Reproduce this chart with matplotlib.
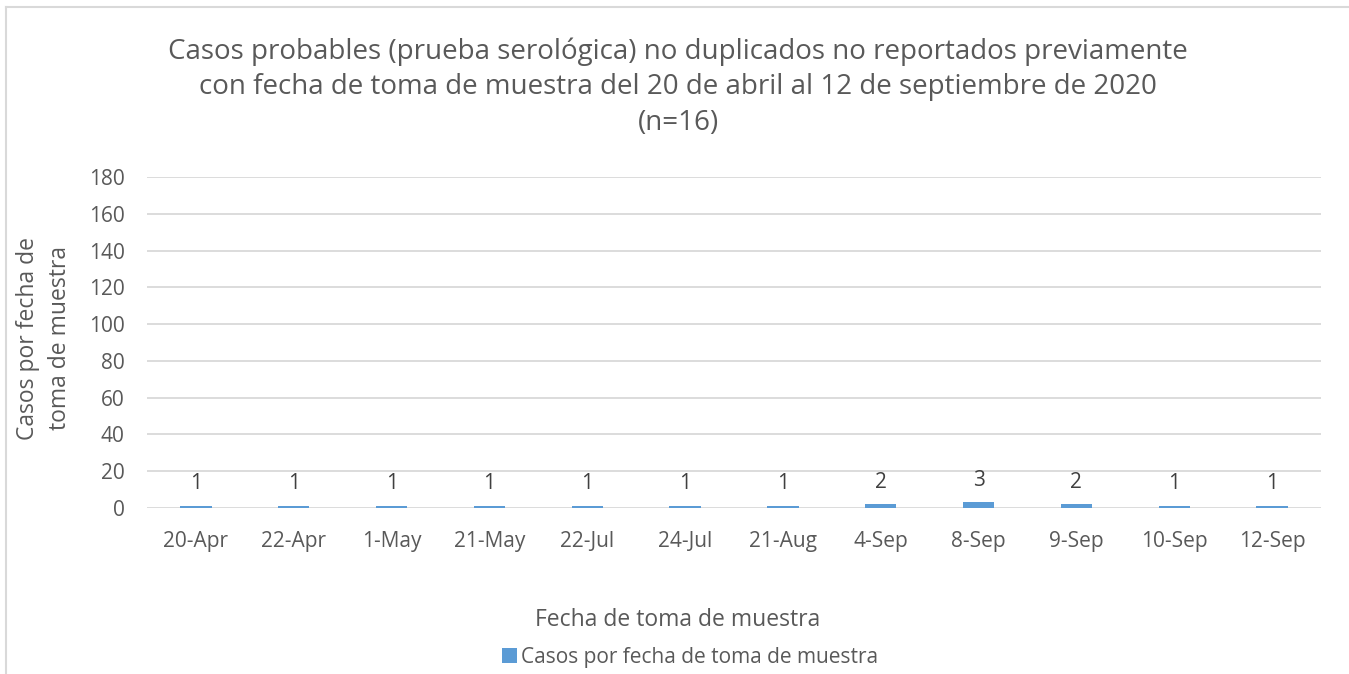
import matplotlib.pyplot as plt
import numpy as np

plt.rcParams['font.family'] = ['Open Sans', 'DejaVu Sans']

fechas = ['20-Apr', '22-Apr', '1-May', '21-May', '22-Jul', '24-Jul',
          '21-Aug', '4-Sep', '8-Sep', '9-Sep', '10-Sep', '12-Sep']
casos = [1, 1, 1, 1, 1, 1, 1, 2, 3, 2, 1, 1]
yticks = [0, 20, 40, 60, 80, 100, 120, 140, 160, 180]

gris = '#595959'
azul = '#5B9BD5'

fig = plt.figure(figsize=(13.49, 6.74), dpi=100)
ax = fig.add_axes([147/1349, 1 - 508/674, (1321-147)/1349, (508-177)/674])

x = np.arange(len(fechas))
bars = ax.bar(x, casos, width=0.32, color=azul, zorder=3,
              label='Casos por fecha de toma de muestra')
for xi, v in zip(x, casos):
    ax.annotate(str(v), (xi, v), xytext=(0, 16), textcoords='offset points',
                ha='center', va='center', fontsize=15, color='#404040')

ax.set_xlim(-0.5, len(fechas) - 0.5)
ax.set_ylim(0, 180)
ax.set_yticks(yticks)
ax.set_xticks(x)
ax.set_xticklabels(fechas)
ax.tick_params(axis='both', length=0, labelsize=15, colors=gris)
ax.tick_params(axis='x', pad=16.5)
ax.tick_params(axis='y', pad=16)
ax.grid(axis='y', color='#D9D9D9', linewidth=1.3, zorder=0)
for s in ax.spines.values():
    s.set_visible(False)

fig.text(678/1349, 1 - 620/674, 'Fecha de toma de muestra', ha='center', va='center',
         fontsize=16.5, color=gris)
fig.text(44/1349, 1 - 338/674, 'Casos por fecha de\ntoma de muestra', ha='center',
         va='center', rotation=90, fontsize=16.5, color=gris, linespacing=1.45)

fig.text(678/1349, 1 - 87/674,
         'Casos probables (prueba serológica) no duplicados no reportados previamente\n'
         'con fecha de toma de muestra del 20 de abril al 12 de septiembre de 2020\n'
         '(n=16)', ha='center', va='center', fontsize=20, color=gris, linespacing=1.36)

fig.legend(handles=[bars], loc='center', bbox_to_anchor=(690/1349, 1 - 657/674),
           frameon=False, fontsize=15, handlelength=0.75, handleheight=0.75,
           handletextpad=0.2, labelcolor=gris)

# borde del grafico
fig.add_artist(plt.Line2D([6/1349, 6/1349], [0, 1 - 7/674], color='#D9D9D9', lw=1.5))
fig.add_artist(plt.Line2D([6/1349, 1], [1 - 7/674, 1 - 7/674], color='#D9D9D9', lw=1.5))

fig.savefig('out.png', dpi=100)
